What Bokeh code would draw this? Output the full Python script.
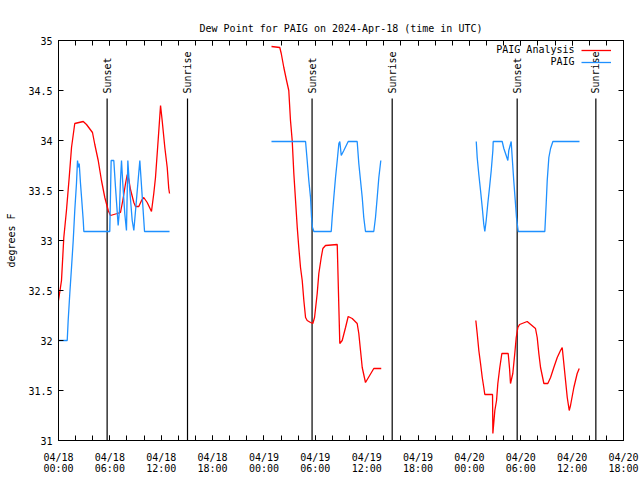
import math
from bokeh.plotting import figure
from bokeh.models import (Range1d, FixedTicker, LinearAxis, Legend, LegendItem,
                          Label, CustomJSTickFormatter)
from bokeh.core.properties import value
from bokeh.embed import file_html
from bokeh.resources import INLINE

FONT = "DejaVu Sans Mono"
FS = "10px"
RED = "#ff0000"
BLUE = "#1e90ff"

# time axis: hours since 2024-04-18 00:00 UTC
# ---- PAIG Analysis (red), three segments ----
ana_t1 = [0.0, 0.35, 0.62, 0.93, 1.25, 1.52, 1.9, 2.89, 3.27, 3.97, 4.24, 4.64, 5.02,
          5.41, 5.81, 6.07, 6.86, 7.24, 7.51, 7.83, 8.03, 8.21, 8.41, 8.8, 9.0, 9.38,
          9.7, 9.96, 10.36, 10.86, 11.13, 11.33, 11.53, 11.72, 11.92, 12.11, 12.42,
          12.7, 12.88, 12.97]
ana_v1 = [32.4, 32.6, 33.03, 33.3, 33.63, 33.93, 34.17, 34.19, 34.16, 34.08, 33.96, 33.8, 33.6,
          33.43, 33.3, 33.25, 33.27, 33.28, 33.4, 33.57, 33.66, 33.61, 33.51, 33.38, 33.34, 33.34,
          33.4, 33.43, 33.38, 33.29, 33.47, 33.63, 33.87, 34.1, 34.35, 34.2, 33.93,
          33.73, 33.52, 33.47]
ana_t2 = [24.88, 25.85, 26.02, 26.32, 26.64, 26.9, 27.1, 27.3, 27.49, 27.89, 28.07, 28.27,
          28.47, 28.66, 28.86, 29.05, 29.44, 29.71, 29.91, 30.22, 30.41, 30.69, 30.88, 31.19,
          32.56, 32.75, 32.86, 33.14, 33.53, 33.84, 34.31, 34.89, 35.08, 35.28, 35.48, 35.86,
          36.83, 37.7]
ana_v2 = [34.94, 34.93, 34.87, 34.73, 34.6, 34.5, 34.2, 34.0, 33.67, 33.13, 32.93, 32.73,
          32.6, 32.4, 32.23, 32.2, 32.18, 32.17, 32.23, 32.47, 32.67, 32.83, 32.92, 32.95,
          32.96, 32.33, 31.97, 32.0, 32.13, 32.24, 32.22, 32.17, 32.07, 31.9, 31.73, 31.58,
          31.72, 31.72]
ana_t3 = [48.75, 48.91, 49.1, 49.3, 49.5, 49.68, 49.8, 50.7, 50.74, 50.97, 51.17, 51.32,
          51.55, 51.79, 52.53, 52.69, 52.8, 53.07, 53.3, 53.47, 53.66, 53.86, 54.75, 55.72,
          55.92, 56.11, 56.31, 56.7, 57.16, 57.48, 57.86, 58.26, 58.64, 58.84, 59.03, 59.23,
          59.43, 59.66, 59.81, 60.2, 60.59, 60.83]
ana_v3 = [32.2, 32.07, 31.9, 31.77, 31.63, 31.53, 31.46, 31.46, 31.07, 31.3, 31.4, 31.57,
          31.73, 31.87, 31.87, 31.72, 31.57, 31.67, 31.87, 32.03, 32.13, 32.16, 32.19, 32.12,
          32.03, 31.87, 31.73, 31.57, 31.57, 31.63, 31.73, 31.83, 31.9, 31.93, 31.77, 31.6,
          31.43, 31.3, 31.35, 31.53, 31.67, 31.72]

# ---- PAIG observations (blue), three segments ----
obs_t1 = [0.0, 1.02, 1.13, 1.32, 1.52, 1.72, 1.9, 2.1, 2.22, 2.34, 2.42, 2.57, 2.72, 2.89,
          2.96, 5.99, 6.15, 6.46, 6.66, 6.97, 7.12, 7.24, 7.36, 7.51, 7.74, 7.94, 8.1, 8.29,
          8.61, 8.8, 9.5, 10.05, 12.97]
obs_v1 = [32.0, 32.0, 32.2, 32.47, 32.73, 33.0, 33.3, 33.57, 33.8, 33.73, 33.77, 33.57, 33.4, 33.2,
          33.09, 33.09, 33.8, 33.8, 33.53, 33.15, 33.3, 33.6, 33.8, 33.57, 33.27, 33.1, 33.8, 33.54,
          33.2, 33.1, 33.8, 33.09, 33.09]
obs_t2 = [24.88, 28.86, 29.05, 29.24, 29.44, 29.56, 29.67, 29.83, 31.86, 31.97, 32.16, 32.36,
          32.56, 32.75, 32.86, 33.03, 33.33, 33.84, 34.89, 35.08, 35.28, 35.48, 35.66, 35.86,
          36.83, 37.03, 37.23, 37.42, 37.65]
obs_v2 = [33.99, 33.99, 33.8, 33.6, 33.43, 33.23, 33.13, 33.09, 33.09, 33.23, 33.43, 33.63,
          33.8, 33.97, 33.99, 33.85, 33.9, 33.99, 33.99, 33.77, 33.6, 33.43, 33.23, 33.09,
          33.09, 33.23, 33.43, 33.63, 33.8]
obs_t3 = [48.8, 48.91, 49.1, 49.3, 49.5, 49.68, 49.8, 49.96, 50.15, 50.35, 50.55, 50.74, 50.78,
          51.83, 52.02, 52.22, 52.49, 52.6, 52.88, 53.0, 53.18, 53.38, 53.5, 53.7, 56.81, 56.97,
          57.09, 57.28, 57.48, 57.75, 60.86]
obs_v3 = [33.99, 33.83, 33.66, 33.5, 33.33, 33.16, 33.09, 33.2, 33.37, 33.53, 33.7, 33.9, 33.99,
          33.99, 33.92, 33.87, 33.8, 33.9, 33.99, 33.83, 33.6, 33.37, 33.23, 33.09, 33.09, 33.37,
          33.6, 33.83, 33.92, 33.99, 33.99]

# ---- sun events (hours since 04/18 00:00 UTC) ----
sunset_t = [5.68, 29.62, 53.58]
sunrise_t = [15.07, 38.98, 62.77]

# ---- axes ----
x_ticks = [0, 6, 12, 18, 24, 30, 36, 42, 48, 54, 60, 66]
x_minor = [0, 2, 4, 6, 8, 10, 12, 14, 16, 18, 20, 22, 24, 26, 28, 30, 32, 34, 36, 38, 40,
           42, 44, 46, 48, 50, 52, 54, 56, 58, 60, 62, 64, 66]
x_labels = ["04/18\n00:00", "04/18\n06:00", "04/18\n12:00", "04/18\n18:00",
            "04/19\n00:00", "04/19\n06:00", "04/19\n12:00", "04/19\n18:00",
            "04/20\n00:00", "04/20\n06:00", "04/20\n12:00", "04/20\n18:00"]
y_ticks = [31.0, 31.5, 32.0, 32.5, 33.0, 33.5, 34.0, 34.5, 35.0]
y_labels = ["31", "31.5", "32", "32.5", "33", "33.5", "34", "34.5", "35"]

X_MIN, X_MAX = 0, 66
Y_MIN, Y_MAX = 31, 35
SUN_LINE_TOP = 34.42
SUN_TEXT_Y = 34.47


def join(*segs):
    xs, ys = [], []
    for i, (t, v) in enumerate(segs):
        if i:
            xs.append(float("nan"))
            ys.append(float("nan"))
        xs += t
        ys += v
    return xs, ys


p = figure(width=640, height=480, x_range=Range1d(X_MIN, X_MAX), y_range=Range1d(Y_MIN, Y_MAX),
           output_backend="svg", toolbar_location=None,
           min_border_left=58, min_border_right=17, min_border_top=40, min_border_bottom=40)
p.grid.visible = False
p.outline_line_color = "black"
p.outline_line_width = 1
p.background_fill_color = "white"
p.border_fill_color = "white"

p.title.text = "Dew Point for PAIG on 2024-Apr-18 (time in UTC)"
p.title.align = "center"
p.title.text_font = FONT
p.title.text_font_size = FS
p.title.text_font_style = "normal"
p.title.text_color = "black"
p.title.standoff = 13

xa = p.xaxis[0]
xa.ticker = FixedTicker(ticks=x_ticks, minor_ticks=x_minor)
xa.major_label_overrides = {t: lab for t, lab in zip(x_ticks, x_labels)}
xa.major_label_text_line_height = 1.0
ya = p.yaxis[0]
ya.ticker = FixedTicker(ticks=y_ticks, minor_ticks=[])
ya.major_label_overrides = {t: lab for t, lab in zip(y_ticks, y_labels)}
ya.axis_label = "degrees F"
ya.axis_label_text_font = FONT
ya.axis_label_text_font_size = FS
ya.axis_label_text_font_style = "normal"
ya.axis_label_text_color = "black"
ya.axis_label_standoff = 8
ya.major_label_standoff = 6
xa.major_label_standoff = 11

for ax in (xa, ya):
    ax.axis_line_color = "black"
    ax.major_tick_in = 5
    ax.major_tick_out = 0
    ax.minor_tick_in = 5
    ax.minor_tick_out = 0
    ax.major_tick_line_color = "black"
    ax.minor_tick_line_color = "black"
    ax.major_label_text_font = FONT
    ax.major_label_text_font_size = FS
    ax.major_label_text_color = "black"

blank = CustomJSTickFormatter(code="return ''")
ra = LinearAxis(ticker=FixedTicker(ticks=y_ticks, minor_ticks=[]), formatter=blank,
                major_label_text_font_size="0px", major_label_standoff=0,
                major_tick_in=5, major_tick_out=0, minor_tick_in=0, minor_tick_out=0)
ta = LinearAxis(ticker=FixedTicker(ticks=x_ticks, minor_ticks=x_minor), formatter=blank,
                major_label_text_font_size="0px", major_label_standoff=0,
                major_tick_in=5, major_tick_out=0, minor_tick_in=5, minor_tick_out=0)
p.add_layout(ra, "right")
p.add_layout(ta, "above")

# sunrise / sunset markers
sun_t = sunset_t + sunrise_t
sun_names = ["Sunset"] * len(sunset_t) + ["Sunrise"] * len(sunrise_t)
p.segment(x0=sun_t, y0=[Y_MIN] * len(sun_t), x1=sun_t, y1=[SUN_LINE_TOP] * len(sun_t),
          line_color="black", line_width=1.2)
p.text(x=sun_t, y=[SUN_TEXT_Y] * len(sun_t), text=sun_names, angle=math.pi / 2,
       text_align="left", text_baseline="middle", text_font=value(FONT),
       text_font_size=value(FS), text_color="black")

ax_, ay_ = join((ana_t1, ana_v1), (ana_t2, ana_v2), (ana_t3, ana_v3))
ox_, oy_ = join((obs_t1, obs_v1), (obs_t2, obs_v2), (obs_t3, obs_v3))
r_ana = p.line(ax_, ay_, line_color=RED, line_width=1.3)
r_obs = p.line(ox_, oy_, line_color=BLUE, line_width=1.3)

legend = Legend(items=[LegendItem(label=" ", renderers=[r_ana]),
                       LegendItem(label=" ", renderers=[r_obs])],
                location=(523, 372), padding=0, margin=0, spacing=0,
                glyph_width=30, glyph_height=12, label_height=12, label_width=0,
                label_standoff=0, label_text_font_size="1px",
                border_line_color=None, background_fill_alpha=0)
p.add_layout(legend)

for txt, yy in (("PAIG Analysis", 34.91), ("PAIG", 34.79)):
    p.add_layout(Label(x=60.28, y=yy, text=txt, text_align="right", text_baseline="middle",
                       text_font=FONT, text_font_size=FS, text_color="black"))

open("out.html", "w").write(file_html(p, INLINE))
